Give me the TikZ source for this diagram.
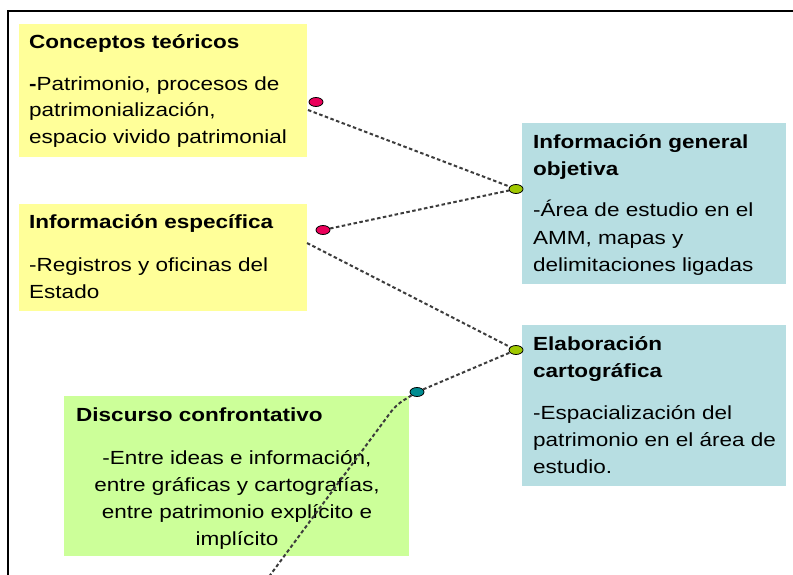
\documentclass[tikz,border=0pt]{standalone}
\usepackage{fontspec}
\setmainfont{Liberation Sans}[FakeStretch=1.185]
\usetikzlibrary{shapes.geometric}
\definecolor{boxyellow}{RGB}{255,255,153}
\definecolor{boxblue}{RGB}{183,222,226}
\definecolor{boxgreen}{RGB}{204,255,153}
\definecolor{dotpink}{RGB}{235,0,90}
\definecolor{dotolive}{RGB}{160,200,0}
\definecolor{dotteal}{RGB}{0,140,145}
\definecolor{linegray}{RGB}{60,60,60}
\begin{document}
\begin{tikzpicture}[x=1pt,y=-1pt,
  box/.style={rectangle, inner sep=0pt, anchor=north west},
  txt/.style={anchor=base west, inner sep=0pt, font=\fontsize{19}{27}\selectfont},
  ctxt/.style={anchor=base, inner sep=0pt, font=\fontsize{19}{27}\selectfont},
  dotnode/.style={ellipse, draw=black, line width=0.8pt, inner sep=0pt, minimum width=14pt, minimum height=9pt},
  link/.style={draw=linegray, line width=2pt, dash pattern=on 3.5pt off 2.5pt}]
\useasboundingbox (0,0) rectangle (793,575);
\fill[white] (0,0) rectangle (793,575);
\draw[line width=2pt] (8,575) -- (8,11) -- (793,11);

% boxes
\node[box, fill=boxyellow, minimum width=288pt, minimum height=133pt] (b1) at (19,24) {};
\node[box, fill=boxyellow, minimum width=288pt, minimum height=107pt] (b2) at (19,204) {};
\node[box, fill=boxblue, minimum width=264pt, minimum height=161pt] (b3) at (522,123) {};
\node[box, fill=boxblue, minimum width=264pt, minimum height=161pt] (b4) at (522,325) {};
\node[box, fill=boxgreen, minimum width=345pt, minimum height=160pt] (b5) at (64,396) {};

% texts box 1
\node[txt] (t1a) at (29,49) {\textbf{Conceptos teóricos}};
\node[txt] (t1b) at (29,91) {\textbf{-}Patrimonio, procesos de};
\node[txt] (t1c) at (29,117) {patrimonialización,};
\node[txt] (t1d) at (29,144) {espacio vivido patrimonial};
% texts box 2
\node[txt] (t2a) at (29,229) {\textbf{Información específica}};
\node[txt] (t2b) at (29,271) {-Registros y oficinas del};
\node[txt] (t2c) at (29,298) {Estado};
% texts box 3
\node[txt] (t3a) at (533,149) {\textbf{Información general}};
\node[txt] (t3b) at (533,176) {\textbf{objetiva}};
\node[txt] (t3c) at (533,217) {-Área de estudio en el};
\node[txt] (t3d) at (533,244) {AMM, mapas y};
\node[txt] (t3e) at (533,271) {delimitaciones ligadas};
% texts box 4
\node[txt] (t4a) at (533,350) {\textbf{Elaboración}};
\node[txt] (t4b) at (533,377) {\textbf{cartográfica}};
\node[txt] (t4c) at (533,419) {-Espacialización del};
\node[txt] (t4d) at (533,446) {patrimonio en el área de};
\node[txt] (t4e) at (533,473) {estudio.};
% texts box 5
\node[txt] (t5a) at (76,421) {\textbf{Discurso confrontativo}};
\node[ctxt] (t5b) at (237,464) {-Entre ideas e información,};
\node[ctxt] (t5c) at (237,491) {entre gráficas y cartografías,};
\node[ctxt] (t5d) at (237,518) {entre patrimonio explícito e};
\node[ctxt] (t5e) at (237,545) {implícito};

% dots
\node[dotnode, fill=dotpink] (p1) at (316,102) {};
\node[dotnode, fill=dotpink] (p2) at (323,230) {};
\node[dotnode, fill=dotolive] (g1) at (516,189) {};
\node[dotnode, fill=dotolive] (g2) at (516,350) {};
\node[dotnode, fill=dotteal] (tl) at (417,392) {};

% connector ends
\coordinate (s1) at (308,110);
\coordinate (s3) at (307,243);
\coordinate (bend) at (396,405);
\coordinate (e5) at (268,578);

% connectors
\draw[link] (s1) -- (g1);
\draw[link] (p2) -- (g1);
\draw[link] (s3) -- (g2);
\draw[link] (tl) -- (g2);
\draw[link, rounded corners=8pt] (tl) -- (bend) -- (e5);
\end{tikzpicture}
\end{document}
